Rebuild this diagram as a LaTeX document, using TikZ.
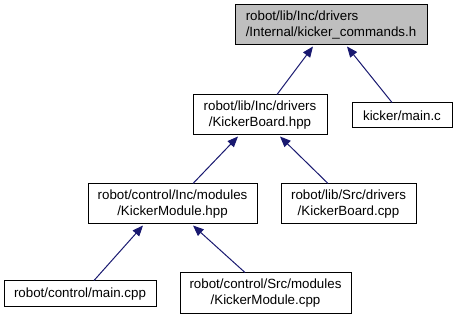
\documentclass[tikz,border=0pt]{standalone}
\usepackage{fontspec}
\setmainfont{Liberation Sans}
\usetikzlibrary{arrows.meta,calc}
\definecolor{edgeblue}{HTML}{191970}
\definecolor{curfill}{HTML}{BFBFBF}

\begin{document}
\begin{tikzpicture}[x=0.75pt,y=-0.75pt,
    file/.style={draw,line width=0.75pt,align=center,inner sep=0pt,
      font=\fontsize{10}{12}\selectfont},
    current/.style={file,fill=curfill,align=left},
    dep/.style={draw=edgeblue,line width=0.75pt,
      -{Triangle[length=8pt,width=6.5pt,fill=edgeblue]}}]
    \useasboundingbox (0,0) rectangle (457,320);
    % the header and the files that include it
    \node[current,minimum width=144pt,minimum height=30pt] (cmds) at (331,25)
      {robot/lib/Inc/drivers\\/Internal/kicker\_commands.h};
    \node[file,minimum width=100.5pt,minimum height=30pt] (kbhpp) at (260,115)
      {robot/lib/Inc/drivers\\/KickerBoard.hpp};
    \node[file,minimum width=75pt,minimum height=18.75pt] (kmain) at (402,115.5)
      {kicker/main.c};
    \node[file,minimum width=126.75pt,minimum height=30pt] (kmhpp) at (172.5,204)
      {robot/control/Inc/modules\\/KickerModule.hpp};
    \node[file,minimum width=101.25pt,minimum height=30pt] (kbcpp) at (348.5,204)
      {robot/lib/Src/drivers\\/KickerBoard.cpp};
    \node[file,minimum width=114pt,minimum height=19.5pt] (rmain) at (80,294)
      {robot/control/main.cpp};
    \node[file,minimum width=128.25pt,minimum height=30.75pt] (kmcpp) at (265.5,293.5)
      {robot/control/Src/modules\\/KickerModule.cpp};
    % include edges, arrow at the included file
    \draw[dep] ($(kbhpp.north)+(17,0)$) -- ($(cmds.south)+(-18,1)$);
    \draw[dep] ($(kmain.north)+(-10,0)$) -- ($(cmds.south)+(16,1)$);
    \draw[dep] ($(kmhpp.north)+(20.5,0)$) -- ($(kbhpp.south)+(-22,1)$);
    \draw[dep] ($(kbcpp.north)+(-20.5,0)$) -- ($(kbhpp.south)+(20,1)$);
    \draw[dep] ($(rmain.north)+(14,0)$) -- ($(kmhpp.south)+(-29.5,1)$);
    \draw[dep] ($(kmcpp.north)+(-20.5,0)$) -- ($(kmhpp.south)+(20.5,1)$);
\end{tikzpicture}
\end{document}
